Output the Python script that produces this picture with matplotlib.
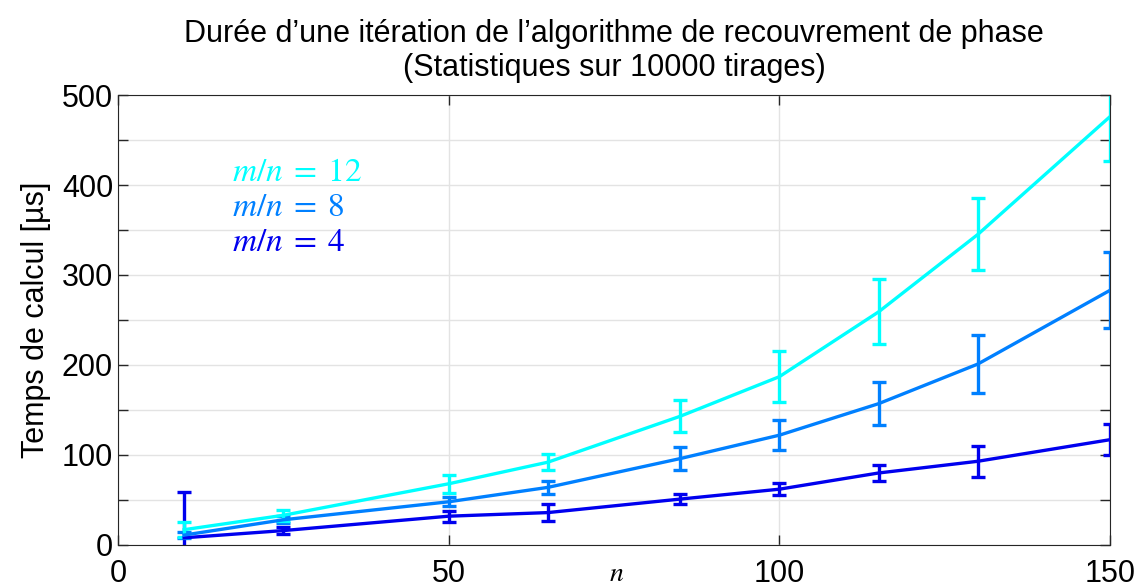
import numpy as np
import matplotlib.pyplot as plt
from matplotlib.ticker import MultipleLocator

plt.rcParams['font.family'] = ['Liberation Sans', 'DejaVu Sans']
plt.rcParams['mathtext.fontset'] = 'stix'

# taille du problème n
n = [10, 25, 50, 65, 85, 100, 115, 130, 150]

# temps moyens [µs] et demi-largeurs des barres d'erreur
t12 = [17, 33, 68, 92, 143, 187, 259, 345, 476]
e12 = [8, 6, 10, 9, 18, 28, 36, 40, 49]
t8 = [11, 28, 48, 64, 96, 122, 157, 201, 283]
e8 = [3, 4, 5, 7, 13, 17, 24, 32, 42]
t4 = [8, 16, 32, 36, 51, 62, 80, 93, 117]
e4 = [51, 4, 6, 9, 6, 7, 9, 17, 17]

labels = [r'$m/n\;=\;12$', r'$m/n\;=\;8$', r'$m/n\;=\;4$']
colors = ['#00FFFF', '#0080FF', '#0000EE']

fig = plt.figure(figsize=(11.42, 5.85), dpi=100)
ax = fig.add_axes([0.1033, 0.0684, 0.8687, 0.7692])

for t, e, c in zip([t4, t8, t12], [e4, e8, e12], colors[::-1]):
    ax.errorbar(n, t, yerr=e, color=c, lw=2.4, elinewidth=2.4,
                capsize=5, capthick=2.4)

ax.set_xlim(0, 150)
ax.set_ylim(0, 500)
ax.xaxis.set_major_locator(MultipleLocator(50))
ax.yaxis.set_major_locator(MultipleLocator(100))
ax.yaxis.set_minor_locator(MultipleLocator(50))
ax.grid(True, which='major', color='#e3e3e3', lw=1)
ax.grid(True, which='minor', axis='y', color='#e3e3e3', lw=1)
ax.set_axisbelow(True)
ax.tick_params(which='both', direction='in', top=True, right=True,
               length=7, width=1, color='#262626', labelsize=22)
ax.tick_params(axis='x', pad=10)
for s in ax.spines.values():
    s.set_color('#262626')

fig.text(617 / 1142, 1 - 574 / 585, r'$n$', fontsize=20,
         ha='center', va='center')
ax.set_ylabel('Temps de calcul [µs]', fontsize=22, labelpad=8)
ax.set_title('Durée d’une itération de l’algorithme de recouvrement de phase\n'
             '(Statistiques sur 10000 tirages)', fontsize=22, pad=14,
             linespacing=1.15)

for lab, c, y in zip(labels, colors, [414, 375, 336]):
    ax.text(17.2, y, lab, color=c, fontsize=24, va='center', ha='left')

fig.savefig('out.png', dpi=100)
